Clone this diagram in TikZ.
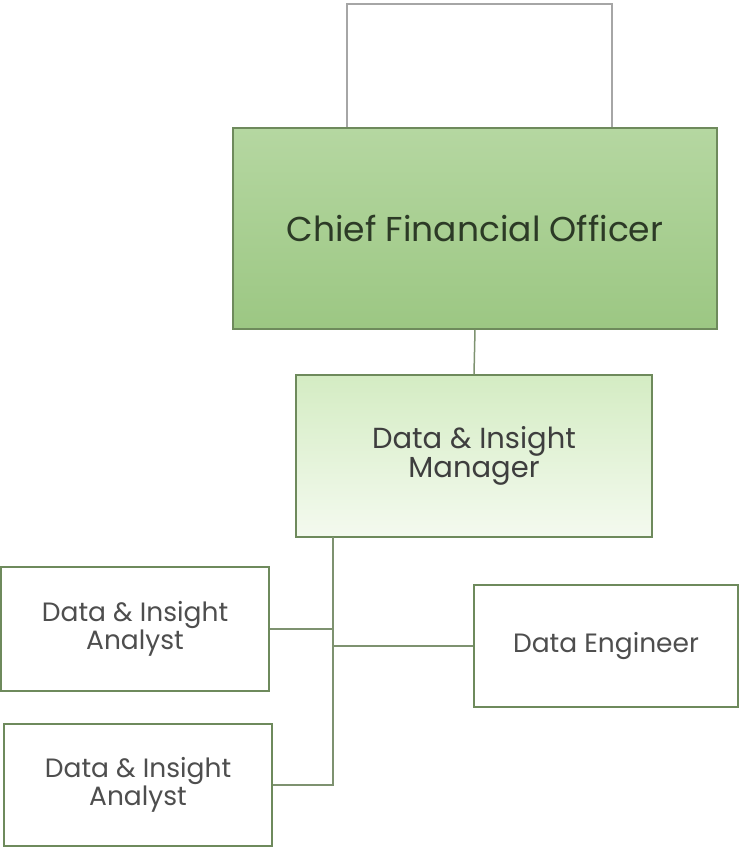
\documentclass[tikz,border=0pt]{standalone}
\usepackage{fontspec}
\setmainfont{Poppins}
\definecolor{boxline}{HTML}{6E8A5C}
\definecolor{linkline}{HTML}{7E9270}
\definecolor{cfotop}{HTML}{B5D7A1}
\definecolor{cfobot}{HTML}{9CC783}
\definecolor{mgrtop}{HTML}{D4ECC3}
\definecolor{mgrbot}{HTML}{F4FAEF}
\definecolor{cfotext}{HTML}{2C3A26}
\definecolor{mgrtext}{HTML}{3E3E3E}
\definecolor{roletext}{HTML}{4E4E4E}
\tikzset{
  rolebox/.style={draw=boxline, line width=1.5pt, fill=white, text=roletext,
    align=center, inner sep=0pt, font=\fontsize{26.5}{26.5}\selectfont},
  link/.style={draw=linkline, line width=1.5pt}
}
\begin{document}
\begin{tikzpicture}[x=1pt, y=-1pt]
    \useasboundingbox (0,0) rectangle (739,847);

    % Top (empty) box
    \node[draw=gray!70, line width=1.2pt, fill=white, minimum width=265pt, minimum height=124pt, inner sep=0pt] (top) at (479.5,66) {};

    % Chief Financial Officer
    \node[rolebox, top color=cfotop, bottom color=cfobot, text=cfotext,
      minimum width=484pt, minimum height=201pt, font=\fontsize{34.5}{36}\selectfont] (cfo) at (475,228.5) {Chief Financial Officer};

    % Manager
    \node[rolebox, top color=mgrtop, bottom color=mgrbot, text=mgrtext,
      minimum width=356pt, minimum height=162pt, font=\fontsize{29}{27}\selectfont] (mgr) at (474,456) {Data \& Insight\\Manager};

    % Team
    \node[rolebox, minimum width=268pt, minimum height=124pt] (an1) at (135,629) {Data \& Insight\\Analyst};
    \node[rolebox, minimum width=268pt, minimum height=122pt] (an2) at (138,785) {Data \& Insight\\Analyst};
    \node[rolebox, minimum width=264pt, minimum height=122pt] (eng) at (606,646) {Data Engineer};

    % Connections
    \coordinate (trunk) at (333,537);
    \draw[link] (cfo.south) -- (mgr.north);
    \draw[link] (trunk) |- (an2.east);
    \draw[link] (an1.east) -- (an1.east -| trunk);
    \draw[link] (trunk |- eng.west) -- (eng.west);
\end{tikzpicture}
\end{document}
